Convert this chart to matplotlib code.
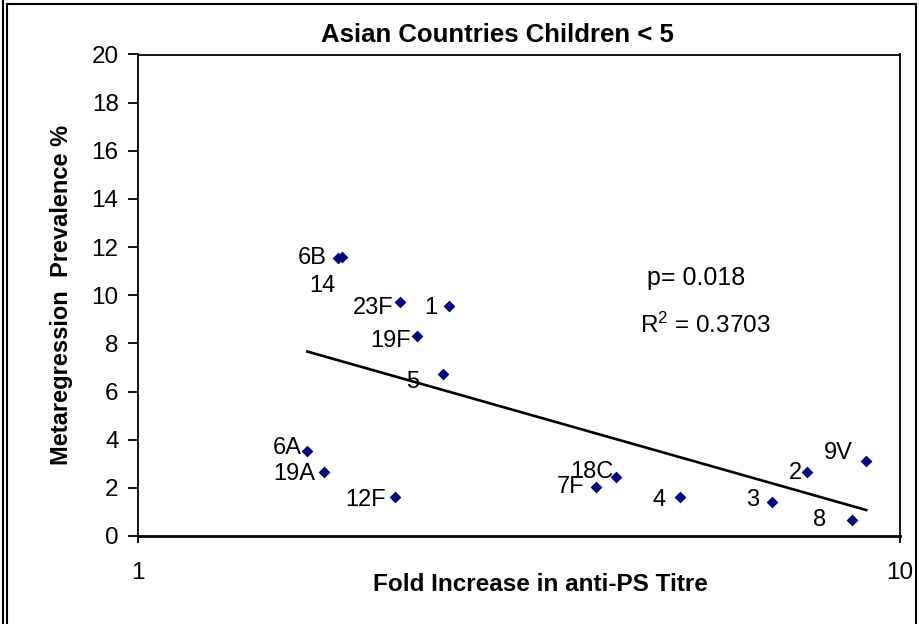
import numpy as np
import matplotlib
matplotlib.use("Agg")
import matplotlib.pyplot as plt
from matplotlib.lines import Line2D

plt.rcParams['font.family'] = ['Liberation Sans', 'DejaVu Sans']

# Serotype data: fold increase in anti-PS titre vs. prevalence (%)
serotypes = ['6B', '14', '23F', '1', '19F', '5', '6A', '19A', '12F',
             '7F', '18C', '4', '3', '2', '9V', '8']
fold_increase = [1.83, 1.855, 2.21, 2.56, 2.32, 2.51, 1.668, 1.753, 2.177,
                 3.99, 4.24, 5.15, 6.79, 7.55, 9.03, 8.64]
prevalence = [11.56, 11.58, 9.73, 9.55, 8.31, 6.71, 3.54, 2.64, 1.61,
              2.03, 2.45, 1.61, 1.41, 2.64, 3.13, 0.65]

y_ticks = [0, 2, 4, 6, 8, 10, 12, 14, 16, 18, 20]
x_ticks = [1, 10]
p_text = 'p= 0.018'
r2_text = '$\\mathregular{R^2}$ = 0.3703'

# label placement relative to each marker (pixels: right, down)
label_offsets = {
    '6B': (-25.7, 0.0), '14': (-20.3, 28.7), '23F': (-27.6, 6.6),
    '1': (-18.0, 2.3), '19F': (-26.0, 4.7), '5': (-29.7, 7.4),
    '6A': (-19.6, -3.0), '19A': (-29.7, 2.0), '12F': (-30.3, 2.7),
    '7F': (-25.0, 0.0), '18C': (-24.3, -5.0), '4': (-21.0, 2.7),
    '3': (-19.7, -2.0), '2': (-11.7, 1.0), '9V': (-28.0, -8.0),
    '8': (-31.7, 0.0),
}

W, H, DPI = 920, 624, 100
fig = plt.figure(figsize=(W / DPI, H / DPI), dpi=DPI)
fig.patch.set_facecolor('white')

ax_l, ax_r, ax_t, ax_b = 138, 900, 54.5, 536
ax = fig.add_axes([ax_l / W, 1 - ax_b / H, (ax_r - ax_l) / W, (ax_b - ax_t) / H])

x = np.array(fold_increase)
y = np.array(prevalence)

ax.scatter(x, y, marker='D', s=36, color='#000080', zorder=3, linewidths=0)

# logarithmic trend line: y = a + b*log10(x)
b, a = np.polyfit(np.log10(x), y, 1)
xs = np.linspace(x.min(), x.max(), 200)
ax.plot(xs, a + b * np.log10(xs), color='black', lw=1.9, zorder=2)

px2pt = 72 / DPI
for name, xi, yi in zip(serotypes, x, y):
    dx, dy = label_offsets[name]
    ax.annotate(name, (xi, yi), xytext=(dx * px2pt, -dy * px2pt),
                textcoords='offset points', ha='center', va='center',
                fontsize=17, color='black', zorder=4)

ax.set_xscale('log')
ax.set_xlim(1, 10)
ax.set_ylim(0, 20)
ax.set_xticks(x_ticks)
ax.set_xticklabels([str(t) for t in x_ticks])
ax.xaxis.set_minor_locator(matplotlib.ticker.NullLocator())
ax.set_yticks(y_ticks)
ax.tick_params(axis='y', direction='out', length=7, width=1.3, labelsize=17.5, pad=7)
ax.tick_params(axis='x', direction='out', length=5, width=1.3, labelsize=17.5, pad=14)

for side in ['left', 'right', 'top']:
    ax.spines[side].set_linewidth(1.3)
    ax.spines[side].set_color('black')
ax.spines['bottom'].set_linewidth(2.0)

ax.set_xlabel('Fold Increase in anti-PS Titre', fontsize=17.5, fontweight='bold')
ax.xaxis.set_label_coords((540 - ax_l) / (ax_r - ax_l), -(573 - ax_b) / (ax_b - ax_t))
ax.set_ylabel('Metaregression  Prevalence %', fontsize=17, fontweight='bold')
ax.yaxis.set_label_coords(-(ax_l - 73) / (ax_r - ax_l), 0.5)

fig.text(497 / W, 1 - 35 / H, 'Asian Countries Children < 5', fontsize=18.5,
         fontweight='bold', ha='center', va='center')

fig.text(696 / W, 1 - 278 / H, p_text, fontsize=18, ha='center', va='center')
fig.text(705 / W, 1 - 325 / H, r2_text, fontsize=17.5, ha='center', va='center')

# chart frame lines
def fline(x0, y0, x1, y1):
    fig.add_artist(Line2D([x0 / W, x1 / W], [1 - y0 / H, 1 - y1 / H],
                          transform=fig.transFigure, color='black', lw=1.5))

fline(3.5, 0, 3.5, H)
fline(7.5, 4, 7.5, H)
fline(7.5, 4, 916, 4)
fline(916, 4, 916, H)

fig.savefig('out.png', dpi=DPI, facecolor='white')
